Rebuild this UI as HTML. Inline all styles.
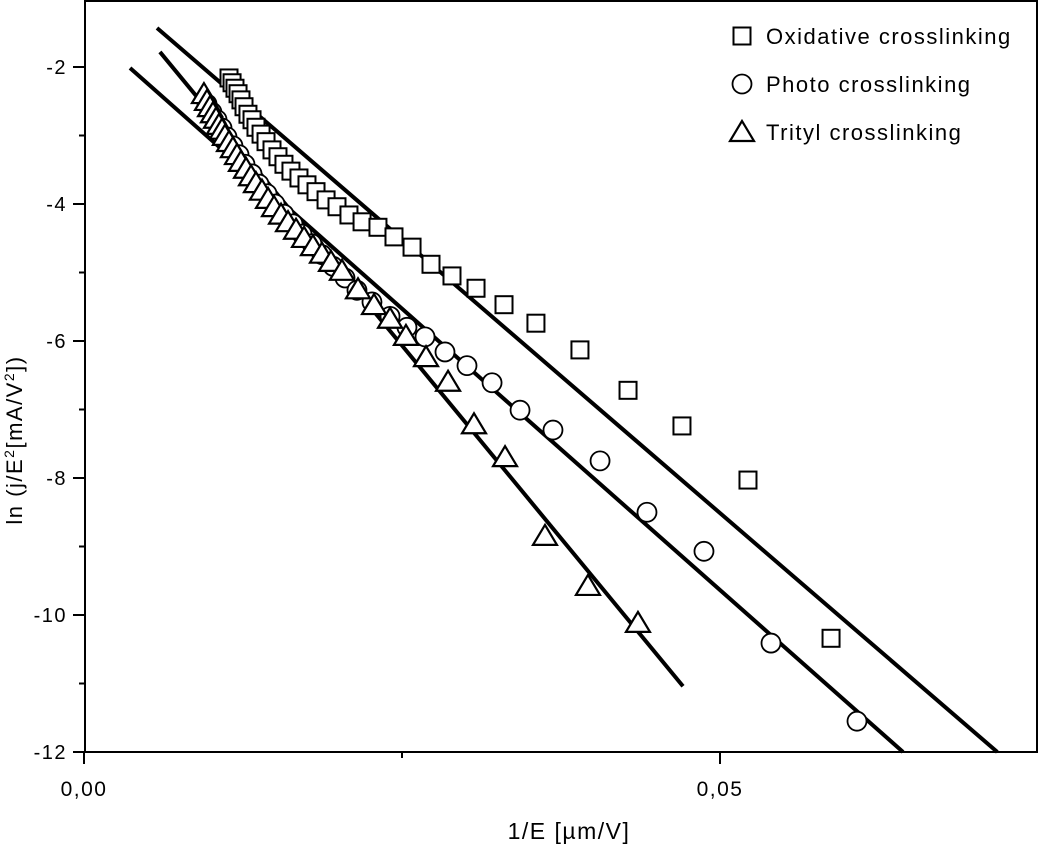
<!DOCTYPE html>
<html><head><meta charset="utf-8"><style>
body{margin:0;background:#fff}
svg text{font-family:"Liberation Sans",Arial,sans-serif;fill:#000;letter-spacing:1.5px}
</style></head><body>
<svg id="chart" width="1040" height="848" xmlns="http://www.w3.org/2000/svg">
<g id="axes"></g>
<g id="fits"></g>
<g id="marks"></g>
<g id="legend"></g>
<text x="569" y="839" font-size="23" text-anchor="middle">1/E [µm/V]</text>
<text transform="translate(22,440) rotate(-90)" font-size="22" text-anchor="middle">ln (j/E<tspan font-size="14" dy="-8">2</tspan><tspan dy="8">[mA/V</tspan><tspan font-size="14" dy="-8">2</tspan><tspan dy="8">])</tspan></text>
</svg>
<script>
const NS="http://www.w3.org/2000/svg";
const yTicks=[-2,-4,-6,-8,-10,-12];
const yTickLabels=["-2","-4","-6","-8","-10","-12"];
const yMinorTicks=[-3,-5,-7,-9,-11];
const xTicks=[0,0.05];
const xTickLabels=["0,00","0,05"];
const xMinorTicks=[0.025];
const oxX=[11.40,11.64,11.87,12.11,12.34,12.58,12.89,13.21,13.52,13.92,14.31,14.78,15.25,15.72,16.27,16.90,17.53,18.24,19.03,19.89,20.83,21.86,23.11,24.37,25.79,27.28,28.93,30.82,33.02,35.53,38.99,42.77,47.01,52.20,58.73];
const oxY=[-2.16,-2.23,-2.31,-2.39,-2.48,-2.58,-2.69,-2.77,-2.88,-2.98,-3.09,-3.21,-3.31,-3.42,-3.52,-3.62,-3.72,-3.82,-3.94,-4.04,-4.16,-4.26,-4.34,-4.48,-4.63,-4.88,-5.05,-5.23,-5.47,-5.74,-6.13,-6.72,-7.24,-8.03,-10.34];
const phX=[9.67,10.06,10.46,10.85,11.24,11.71,12.19,12.66,13.21,13.76,14.39,15.02,15.72,16.43,17.14,17.92,18.71,19.58,20.52,21.46,22.64,24.06,25.39,26.81,28.38,30.11,32.08,34.28,36.87,40.57,44.26,48.74,54.01,60.77];
const phY=[-2.54,-2.66,-2.77,-2.89,-3.02,-3.15,-3.28,-3.42,-3.56,-3.71,-3.85,-4.00,-4.15,-4.29,-4.44,-4.58,-4.74,-4.91,-5.08,-5.26,-5.43,-5.64,-5.80,-5.94,-6.16,-6.36,-6.61,-7.01,-7.30,-7.75,-8.50,-9.07,-10.41,-11.55];
const trX=[9.43,9.67,9.91,10.14,10.38,10.61,10.85,11.08,11.40,11.71,12.03,12.34,12.74,13.13,13.52,13.99,14.47,14.94,15.49,16.04,16.67,17.30,18.00,18.71,19.42,20.28,21.54,22.80,24.06,25.31,26.89,28.62,30.66,33.10,36.24,39.62,43.55];
const trY=[-2.41,-2.51,-2.60,-2.69,-2.77,-2.86,-2.93,-3.02,-3.11,-3.20,-3.30,-3.40,-3.50,-3.61,-3.71,-3.82,-3.94,-4.06,-4.17,-4.28,-4.39,-4.51,-4.63,-4.74,-4.86,-4.99,-5.26,-5.49,-5.69,-5.94,-6.25,-6.61,-7.23,-7.71,-8.86,-9.59,-10.13];
// fit lines: [x0,y0,x1,y1] in data units (x in 1e-3 µm/V)
const fitOx=[5.74,-1.43,71.8,-12];
const fitPh=[3.62,-2.015,64.39,-12];
const fitTr=[5.97,-1.78,47.09,-11.04];

const X0=84,XS=12720;
const Y0=67,YS=68.5;
const sx=v=>X0+v*XS;
const sxm=v=>sx(v/1000);
const sy=v=>Y0+(-2-v)*YS;
function el(t,a,p){const e=document.createElementNS(NS,t);for(const k in a)e.setAttribute(k,a[k]);p.appendChild(e);return e;}
const ax=document.getElementById('axes');
let f=el('rect',{x:85,y:1,width:952,height:751,fill:'none',stroke:'#000','stroke-width':2},ax);


yTicks.forEach((v,i)=>{
 const t=el('line',{x1:73,x2:85,y1:sy(v),y2:sy(v),stroke:'#000','stroke-width':2},ax);
 
 
 const l=el('text',{x:67,y:sy(v)+7,'font-size':20,'text-anchor':'end'},ax);l.textContent=yTickLabels[i];
 
 
});
yMinorTicks.forEach(v=>{
 const t=el('line',{x1:79,x2:85,y1:sy(v),y2:sy(v),stroke:'#000','stroke-width':2},ax);
 
 
});
xTicks.forEach((v,i)=>{
 const t=el('line',{x1:sx(v),x2:sx(v),y1:752,y2:764,stroke:'#000','stroke-width':2},ax);
 
 
 const l=el('text',{x:sx(v),y:796,'font-size':21,'text-anchor':'middle'},ax);l.textContent=xTickLabels[i];
 
 
});
xMinorTicks.forEach(v=>{
 const t=el('line',{x1:sx(v),x2:sx(v),y1:752,y2:758,stroke:'#000','stroke-width':2},ax);
 
 
});
const fg=document.getElementById('fits');
[[fitOx,'fit-line-oxidative'],[fitPh,'fit-line-photo'],[fitTr,'fit-line-trityl']].forEach(([d,n])=>{
 const l=el('line',{x1:sxm(d[0]),y1:sy(d[1]),x2:sxm(d[2]),y2:sy(d[3]),stroke:'#000','stroke-width':4},fg);
 
 
});
const mg=document.getElementById('marks');
function square(cx,cy,p){return el('rect',{x:cx-8.5,y:cy-8.5,width:17,height:17,fill:'#fff',stroke:'#000','stroke-width':2},p);}
function circle(cx,cy,p){return el('circle',{cx:cx,cy:cy,r:9.5,fill:'#fff',stroke:'#000','stroke-width':1.8},p);}
function tri(cx,cy,p){return el('polygon',{points:`${cx},${cy-12} ${cx-12},${cy+8} ${cx+12},${cy+8}`,fill:'#fff',stroke:'#000','stroke-width':2.2},p);}
oxX.forEach((v,i)=>{const m=square(sxm(v),sy(oxY[i]),mg);
 
 });
phX.forEach((v,i)=>{const m=circle(sxm(v),sy(phY[i]),mg);
 
 });
trX.forEach((v,i)=>{const m=tri(sxm(v),sy(trY[i]),mg);
 
 });
const lg=document.getElementById('legend');
const legNames=["Oxidative crosslinking","Photo crosslinking","Trityl crosslinking"];
const legFns=[square,circle,tri];
legNames.forEach((n,i)=>{
 const cy=36+i*48;
 const m=legFns[i](742,cy+(i==2?1:0),lg);
 
 
 const t=el('text',{x:766,y:cy+8,'font-size':22},lg);t.textContent=n;
 
 
});
</script>
</body></html>
